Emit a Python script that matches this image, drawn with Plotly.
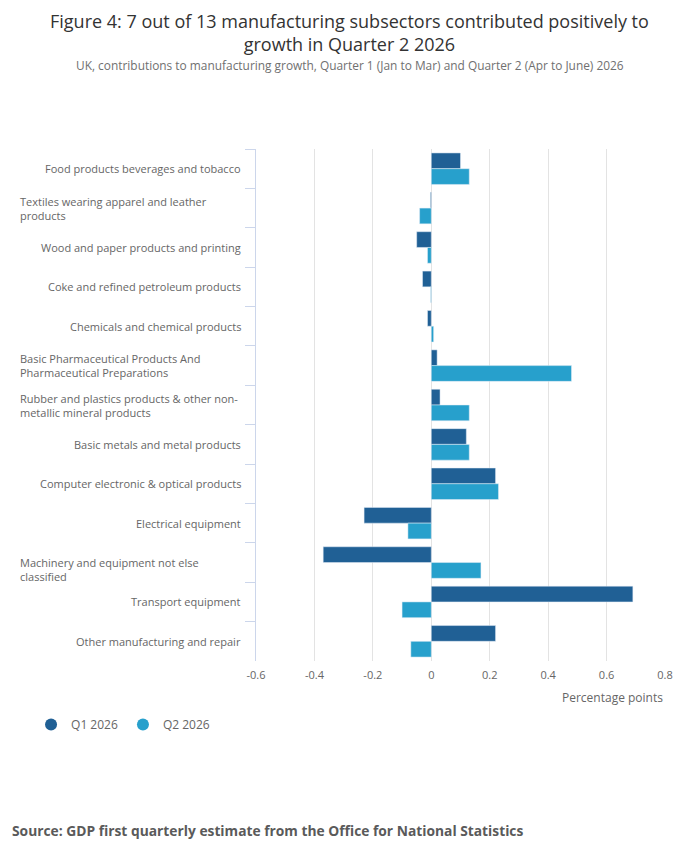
import plotly.graph_objects as go

# manufacturing subsectors, top to bottom
categories = [
    "Food products beverages and tobacco",
    "Textiles wearing apparel and leather products",
    "Wood and paper products and printing",
    "Coke and refined petroleum products",
    "Chemicals and chemical products",
    "Basic Pharmaceutical Products And Pharmaceutical Preparations",
    "Rubber and plastics products & other non-metallic mineral products",
    "Basic metals and metal products",
    "Computer electronic & optical products",
    "Electrical equipment",
    "Machinery and equipment not else classified",
    "Transport equipment",
    "Other manufacturing and repair",
]
# wrapped versions shown next to the axis
category_labels = [
    "Food products beverages and tobacco",
    "Textiles wearing apparel and leather<br>products",
    "Wood and paper products and printing",
    "Coke and refined petroleum products",
    "Chemicals and chemical products",
    "Basic Pharmaceutical Products And<br>Pharmaceutical Preparations",
    "Rubber and plastics products & other non-<br>metallic mineral products",
    "Basic metals and metal products",
    "Computer electronic & optical products",
    "Electrical equipment",
    "Machinery and equipment not else<br>classified",
    "Transport equipment",
    "Other manufacturing and repair",
]

q1_2026 = [0.10, -0.003, -0.05, -0.03, -0.013, 0.02, 0.03, 0.12, 0.22, -0.23, -0.37, 0.69, 0.22]
q2_2026 = [0.13, -0.04, -0.013, -0.002, 0.008, 0.48, 0.13, 0.13, 0.23, -0.08, 0.17, -0.10, -0.07]

x_tick_vals = [-0.6, -0.4, -0.2, 0, 0.2, 0.4, 0.6, 0.8]
x_tick_text = ["-0.6", "-0.4", "-0.2", "0", "0.2", "0.4", "0.6", "0.8"]

dark_blue = "#206095"
light_blue = "#27a0cc"
grey_text = "#666666"

fig = go.Figure()
fig.add_trace(go.Bar(y=categories, x=q1_2026, orientation="h", name="Q1 2026",
                     marker_color=dark_blue, showlegend=False))
fig.add_trace(go.Bar(y=categories, x=q2_2026, orientation="h", name="Q2 2026",
                     marker_color=light_blue, showlegend=False))

# round legend markers like the original
for name, col in [("Q1 2026", dark_blue), ("Q2 2026", light_blue)]:
    fig.add_trace(go.Scatter(x=[None], y=[None], mode="markers", name=name,
                             marker=dict(color=col, size=12, symbol="circle")))

# category labels: single lines hug the axis, wrapped ones start at a fixed left edge
for cat, lab in zip(categories, category_labels):
    if "<br>" in lab:
        # the original sits the machinery label a little low
        shift = -7 if cat.startswith("Machinery") else 0
        fig.add_annotation(x=-0.582, xref="paper", y=cat, yref="y", text=lab,
                           xanchor="left", align="left", yshift=shift, showarrow=False,
                           font=dict(size=11, color=grey_text))
    else:
        fig.add_annotation(x=0, xref="paper", y=cat, yref="y", text=lab,
                           xanchor="right", align="right", xshift=-13, showarrow=False,
                           font=dict(size=11, color=grey_text))

fig.add_annotation(x=1, xref="paper", y=-0.0714, yref="paper", text="Percentage points",
                   xanchor="right", yanchor="middle", showarrow=False,
                   font=dict(size=12, color=grey_text))

fig.add_annotation(x=0.2298, xref="paper", y=1.276, yref="paper", borderpad=0,
                   text="Figure 4: 7 out of 13 manufacturing subsectors contributed positively to<br>growth in Quarter 2 2026",
                   xanchor="center", yanchor="top", showarrow=False,
                   font=dict(size=18, color="#333333"))

fig.add_annotation(x=0.2298, xref="paper", y=1.183, yref="paper",
                   text="UK, contributions to manufacturing growth, Quarter 1 (Jan to Mar) and Quarter 2 (Apr to June) 2026",
                   xanchor="center", yanchor="top", showarrow=False,
                   font=dict(size=11.9, color="#707070"))

fig.add_annotation(x=-0.6015, xref="paper", y=-0.3317, yref="paper",
                   text="<b>Source: GDP first quarterly estimate from the Office for National Statistics</b>",
                   xanchor="left", yanchor="middle", showarrow=False,
                   font=dict(size=13.8, color="#5a5a5a"))

# page body adds an 8px margin, so the figure is drawn 8px smaller
fig.update_layout(
    width=692, height=849,
    margin=dict(l=248, r=35, t=141, b=196),
    paper_bgcolor="white", plot_bgcolor="white",
    font=dict(family="Open Sans", color=grey_text),
    barmode="group", bargap=0.2, bargroupgap=0,
    legend=dict(orientation="h", x=-0.55, xanchor="left", y=-0.124, yanchor="middle",
                font=dict(size=12, color=grey_text), itemwidth=30),
    xaxis=dict(range=[-0.6, 0.8], tickvals=x_tick_vals, ticktext=x_tick_text,
               showgrid=True, gridcolor="#e3e3e3", gridwidth=1, zeroline=False,
               showline=False, tickfont=dict(size=11, color=grey_text),
               ticklabelstandoff=6),
    yaxis=dict(autorange="reversed", showticklabels=False, showgrid=False,
               showline=True, linecolor="#ccd6eb", linewidth=1,
               ticks="outside", tickson="boundaries", ticklen=10, tickcolor="#ccd6eb"),
)

fig.write_html("out.html")
